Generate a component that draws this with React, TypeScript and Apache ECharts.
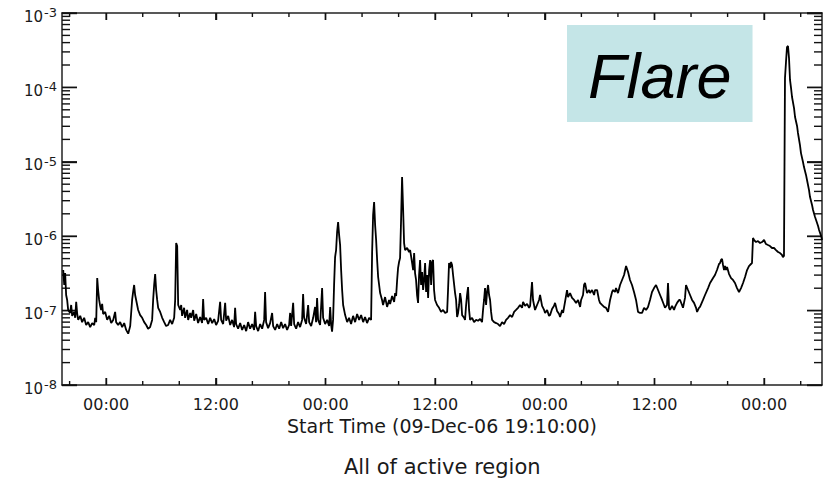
import React, { useEffect, useRef } from 'react';
import * as echarts from 'echarts';

type Pt = [number, number];

// time in hours relative to 10-Dec-06 00:00, flux in W m^-2
const dec09Evening: Pt[] = [
  [-4.70, 3.51e-7], [-4.59, 2.21e-7], [-4.49, 3.20e-7], [-4.38, 1.62e-7], [-4.27, 1.39e-7], [-4.16, 1.02e-7],
  [-3.94, 9.3e-8], [-3.83, 1.19e-7], [-3.72, 8.5e-8], [-3.50, 9.6e-8], [-3.39, 8.0e-8], [-3.28, 1.31e-7],
  [-3.17, 9.0e-8], [-3.06, 7.5e-8], [-2.84, 8.5e-8], [-2.63, 7.0e-8], [-2.41, 8.0e-8], [-2.19, 6.4e-8],
  [-1.97, 7.0e-8], [-1.75, 6.0e-8], [-1.53, 6.8e-8], [-1.31, 6.4e-8], [-1.20, 8.0e-8], [-1.09, 7.0e-8],
  [-0.98, 2.74e-7], [-0.88, 1.89e-7], [-0.77, 1.39e-7], [-0.66, 1.16e-7], [-0.55, 1.02e-7], [-0.44, 1.23e-7],
  [-0.33, 9.0e-8], [-0.11, 9.6e-8],
];

const dec10: Pt[] = [
  [0.11, 7.5e-8], [0.33, 8.5e-8], [0.55, 6.8e-8], [0.77, 7.5e-8], [0.98, 9.6e-8], [1.09, 7.0e-8], [1.31, 6.4e-8],
  [1.53, 7.0e-8], [1.75, 6.0e-8], [1.97, 6.8e-8], [2.19, 5.5e-8], [2.41, 4.9e-8], [2.63, 6.2e-8], [2.84, 1.39e-7],
  [2.95, 1.78e-7], [3.06, 2.21e-7], [3.17, 1.62e-7], [3.28, 1.39e-7], [3.39, 1.19e-7], [3.50, 1.02e-7], [3.72, 8.7e-8],
  [3.94, 8.0e-8], [4.16, 7.0e-8], [4.38, 6.4e-8], [4.59, 5.7e-8], [4.81, 6.0e-8], [5.03, 7.5e-8], [5.14, 1.39e-7],
  [5.25, 2.21e-7], [5.36, 3.10e-7], [5.47, 1.89e-7], [5.58, 1.39e-7], [5.69, 1.09e-7], [5.91, 9.6e-8], [6.13, 8.0e-8],
  [6.35, 7.0e-8], [6.56, 6.2e-8], [6.78, 6.4e-8], [7.00, 7.5e-8], [7.22, 6.6e-8], [7.44, 8.0e-8], [7.55, 1.39e-7],
  [7.66, 8.1e-7], [7.77, 7.4e-7], [7.88, 1.19e-7], [8.10, 1.02e-7], [8.21, 1.19e-7], [8.31, 8.5e-8], [8.53, 1.09e-7],
  [8.64, 8.0e-8], [8.86, 1.02e-7], [8.97, 7.5e-8], [9.19, 9.3e-8], [9.30, 8.0e-8], [9.52, 1.02e-7], [9.63, 7.3e-8],
  [9.85, 9.0e-8], [10.06, 6.8e-8], [10.28, 8.2e-8], [10.50, 6.8e-8], [10.61, 1.43e-7], [10.72, 7.5e-8], [10.94, 8.0e-8],
  [11.16, 6.6e-8], [11.38, 8.0e-8], [11.60, 6.8e-8], [11.82, 7.7e-8], [12.03, 6.4e-8], [12.25, 7.3e-8], [12.47, 1.31e-7],
  [12.58, 7.5e-8], [12.80, 6.6e-8], [13.02, 1.27e-7], [13.13, 7.3e-8], [13.35, 8.5e-8], [13.57, 6.4e-8], [13.78, 7.5e-8],
  [14.00, 6.0e-8], [14.11, 1.09e-7], [14.22, 6.6e-8], [14.44, 5.7e-8], [14.66, 6.8e-8], [14.88, 5.5e-8], [15.10, 6.4e-8],
  [15.32, 5.3e-8], [15.53, 7.0e-8], [15.75, 5.7e-8], [15.97, 6.6e-8], [16.19, 5.5e-8], [16.30, 9.6e-8], [16.41, 6.2e-8],
  [16.63, 5.3e-8], [16.85, 6.6e-8], [17.07, 5.7e-8], [17.29, 7.5e-8], [17.39, 1.78e-7], [17.50, 7.0e-8], [17.72, 5.8e-8],
  [17.94, 6.8e-8], [18.16, 9.3e-8], [18.27, 6.2e-8], [18.49, 5.5e-8], [18.71, 6.6e-8], [18.93, 5.7e-8], [19.15, 7.0e-8],
  [19.36, 5.8e-8], [19.58, 6.6e-8], [19.80, 5.5e-8], [20.02, 6.4e-8], [20.13, 9.3e-8], [20.24, 6.2e-8], [20.46, 1.27e-7],
  [20.57, 6.6e-8], [20.79, 5.7e-8], [21.00, 7.0e-8], [21.22, 6.0e-8], [21.44, 7.5e-8], [21.55, 1.67e-7], [21.66, 8.0e-8],
  [21.88, 6.6e-8], [22.10, 1.19e-7], [22.21, 7.0e-8], [22.43, 6.2e-8], [22.65, 8.0e-8], [22.86, 1.12e-7], [22.97, 7.0e-8],
  [23.08, 1.48e-7], [23.19, 7.5e-8], [23.41, 6.4e-8], [23.63, 2.01e-7], [23.74, 8.0e-8], [23.96, 6.6e-8],
];

const dec11: Pt[] = [
  [24.18, 7.5e-8], [24.40, 6.2e-8], [24.51, 1.12e-7], [24.62, 6.4e-8], [24.72, 5.2e-8], [24.83, 7.5e-8], [24.94, 2.21e-7],
  [25.05, 5.25e-7], [25.16, 6.52e-7], [25.27, 1.14e-6], [25.38, 1.55e-6], [25.49, 1.04e-6], [25.60, 7.61e-7], [25.71, 3.51e-7],
  [25.82, 1.89e-7], [25.93, 1.19e-7], [26.15, 8.7e-8], [26.37, 7.0e-8], [26.58, 8.0e-8], [26.80, 6.6e-8], [27.02, 8.5e-8],
  [27.24, 7.0e-8], [27.46, 9.0e-8], [27.68, 7.5e-8], [27.90, 8.7e-8], [28.12, 7.0e-8], [28.33, 8.2e-8], [28.55, 6.8e-8],
  [28.77, 8.0e-8], [28.99, 7.5e-8], [29.10, 5.94e-7], [29.21, 1.93e-6], [29.32, 2.88e-6], [29.43, 1.41e-6], [29.54, 8.89e-7],
  [29.65, 4.79e-7], [29.76, 2.83e-7], [29.98, 1.72e-7], [30.19, 1.39e-7], [30.30, 1.19e-7], [30.52, 1.52e-7], [30.74, 1.12e-7],
  [30.96, 1.39e-7], [31.07, 1.23e-7], [31.29, 1.57e-7], [31.51, 1.31e-7], [31.62, 1.72e-7], [31.73, 1.57e-7], [31.84, 2.58e-7],
  [31.94, 3.73e-7], [32.05, 4.50e-7], [32.16, 5.09e-7], [32.27, 1.65e-6], [32.38, 6.25e-6], [32.49, 2.39e-6], [32.60, 8.10e-7],
  [32.71, 6.52e-7], [32.93, 6.94e-7], [33.15, 6.13e-7], [33.26, 6.52e-7], [33.48, 4.36e-7], [33.59, 3.51e-7], [33.70, 5.94e-7],
  [33.80, 3.20e-7], [33.91, 2.58e-7], [34.02, 1.62e-7], [34.13, 1.27e-7], [34.24, 3.01e-7], [34.35, 4.79e-7], [34.46, 2.21e-7],
  [34.57, 3.30e-7], [34.68, 1.89e-7], [34.79, 2.58e-7], [34.90, 4.36e-7], [35.01, 1.78e-7], [35.12, 3.01e-7], [35.23, 1.48e-7],
  [35.34, 3.51e-7], [35.45, 4.79e-7], [35.56, 2.21e-7], [35.66, 4.50e-7], [35.77, 4.79e-7], [35.88, 1.89e-7], [35.99, 1.39e-7],
  [36.21, 1.19e-7], [36.43, 1.09e-7], [36.65, 9.6e-8], [36.87, 1.02e-7], [37.09, 9.3e-8], [37.31, 9.6e-8], [37.41, 1.89e-7],
  [37.52, 4.36e-7], [37.63, 3.73e-7], [37.74, 4.50e-7], [37.85, 4.10e-7], [37.96, 3.01e-7], [38.18, 1.72e-7], [38.29, 1.39e-7],
  [38.40, 8.2e-8], [38.51, 9.3e-8], [38.62, 1.19e-7], [38.73, 1.72e-7], [38.84, 1.39e-7], [38.95, 8.7e-8], [39.17, 8.0e-8],
  [39.27, 7.5e-8], [39.38, 1.16e-7], [39.49, 1.62e-7], [39.60, 2.07e-7], [39.71, 1.02e-7], [39.82, 7.5e-8], [40.04, 8.0e-8],
  [40.26, 7.0e-8], [40.48, 7.5e-8], [40.70, 7.3e-8], [40.92, 7.7e-8], [41.13, 7.0e-8], [41.24, 1.02e-7], [41.35, 1.39e-7],
  [41.46, 2.01e-7], [41.57, 1.19e-7], [41.68, 1.78e-7], [41.79, 2.21e-7], [41.90, 1.62e-7], [42.01, 1.39e-7], [42.12, 9.6e-8],
  [42.23, 7.5e-8], [42.45, 7.0e-8], [42.67, 6.8e-8], [42.88, 6.6e-8], [43.10, 6.2e-8], [43.32, 7.0e-8], [43.54, 6.6e-8],
  [43.76, 7.5e-8], [43.98, 8.0e-8], [44.20, 8.7e-8], [44.42, 8.2e-8], [44.64, 9.6e-8], [44.85, 1.02e-7], [45.07, 1.09e-7],
  [45.29, 1.19e-7], [45.51, 1.09e-7], [45.62, 1.31e-7], [45.84, 1.16e-7], [46.06, 1.23e-7], [46.28, 1.09e-7], [46.39, 1.16e-7],
  [46.60, 2.42e-7], [46.71, 1.39e-7], [46.93, 1.02e-7], [47.15, 1.19e-7], [47.37, 1.39e-7], [47.48, 1.62e-7], [47.70, 1.16e-7],
  [47.92, 1.02e-7],
];

const dec12: Pt[] = [
  [48.03, 9.3e-8], [48.25, 1.02e-7], [48.46, 8.5e-8], [48.57, 8.7e-8], [48.79, 1.05e-7], [49.01, 1.16e-7], [49.12, 1.27e-7],
  [49.34, 9.9e-8], [49.56, 9.0e-8], [49.67, 8.2e-8], [49.89, 1.02e-7], [50.00, 9.3e-8], [50.21, 1.31e-7], [50.43, 1.89e-7],
  [50.54, 1.52e-7], [50.76, 1.72e-7], [50.98, 1.48e-7], [51.20, 1.39e-7], [51.42, 1.27e-7], [51.64, 1.39e-7], [51.86, 1.12e-7],
  [51.97, 1.39e-7], [52.18, 1.62e-7], [52.29, 2.21e-7], [52.40, 2.35e-7], [52.62, 1.72e-7], [52.84, 1.89e-7], [52.95, 1.72e-7],
  [53.17, 1.89e-7], [53.39, 1.62e-7], [53.50, 1.89e-7], [53.72, 1.89e-7], [53.93, 1.39e-7], [54.04, 1.27e-7], [54.26, 1.19e-7],
  [54.48, 1.12e-7], [54.70, 1.09e-7], [54.92, 9.6e-8], [55.14, 1.39e-7], [55.36, 1.78e-7], [55.47, 1.89e-7], [55.68, 1.78e-7],
  [55.79, 2.01e-7], [56.01, 1.72e-7], [56.23, 2.21e-7], [56.45, 2.58e-7], [56.67, 3.01e-7], [56.89, 3.97e-7], [57.11, 3.30e-7],
  [57.32, 2.58e-7], [57.54, 2.21e-7], [57.76, 1.78e-7], [57.98, 1.39e-7], [58.20, 9.6e-8], [58.42, 9.3e-8], [58.64, 9.3e-8],
  [58.86, 1.09e-7], [59.08, 1.02e-7], [59.29, 1.12e-7], [59.51, 1.39e-7], [59.73, 1.78e-7], [59.95, 2.01e-7], [60.17, 2.21e-7],
  [60.39, 1.89e-7], [60.61, 1.62e-7], [60.83, 1.39e-7], [61.04, 1.19e-7], [61.15, 1.09e-7], [61.37, 1.19e-7], [61.48, 2.35e-7],
  [61.59, 1.09e-7], [61.70, 1.02e-7], [61.92, 1.16e-7], [62.14, 1.02e-7], [62.25, 1.12e-7], [62.47, 1.27e-7], [62.69, 1.39e-7],
  [62.80, 1.39e-7], [63.01, 1.19e-7], [63.12, 1.09e-7], [63.34, 1.48e-7], [63.45, 2.21e-7], [63.67, 1.89e-7], [63.89, 1.62e-7],
  [64.11, 1.39e-7], [64.33, 1.27e-7], [64.55, 1.09e-7], [64.66, 9.6e-8], [64.87, 1.09e-7], [64.98, 1.12e-7], [65.31, 1.39e-7],
  [65.53, 1.62e-7], [65.86, 2.01e-7], [66.08, 2.35e-7], [66.41, 2.74e-7], [66.62, 3.01e-7], [66.84, 3.51e-7], [67.06, 4.23e-7],
  [67.17, 4.36e-7], [67.28, 4.79e-7], [67.39, 4.94e-7], [67.50, 4.10e-7], [67.61, 3.51e-7], [67.72, 3.97e-7], [67.83, 3.51e-7],
  [67.94, 3.85e-7], [68.16, 3.10e-7], [68.38, 2.74e-7], [68.59, 2.58e-7], [68.81, 2.35e-7], [69.03, 2.01e-7], [69.25, 1.78e-7],
  [69.47, 2.01e-7], [69.69, 2.35e-7], [69.91, 2.83e-7], [70.13, 3.51e-7], [70.34, 3.97e-7], [70.56, 4.23e-7], [70.67, 4.36e-7],
  [70.78, 9.45e-7], [70.89, 8.89e-7], [71.11, 8.35e-7], [71.33, 8.61e-7], [71.55, 8.10e-7], [71.77, 8.35e-7], [71.99, 8.89e-7],
];

const dec13Flare: Pt[] = [
  [72.20, 7.85e-7], [72.42, 7.61e-7], [72.64, 7.38e-7], [72.86, 6.94e-7], [73.08, 6.94e-7], [73.30, 6.52e-7], [73.52, 6.13e-7],
  [73.74, 5.94e-7], [73.95, 5.59e-7], [74.06, 5.25e-7], [74.17, 5.42e-7], [74.28, 1.34e-4], [74.39, 2.19e-4], [74.50, 3.49e-4],
  [74.61, 3.60e-4], [74.72, 2.48e-4], [74.83, 1.26e-4], [74.94, 9.84e-5], [75.05, 7.43e-5], [75.27, 5.27e-5], [75.38, 4.0e-5],
  [75.60, 3.03e-5], [75.70, 2.44e-5], [75.92, 1.68e-5], [76.03, 1.31e-5], [76.25, 9.94e-6], [76.36, 8.5e-6], [76.58, 6.66e-6],
  [76.69, 5.69e-6], [76.91, 4.16e-6], [77.02, 3.36e-6], [77.24, 2.63e-6], [77.35, 2.25e-6], [77.57, 1.81e-6], [77.68, 1.65e-6],
  [77.90, 1.37e-6], [78.01, 1.21e-6], [78.23, 1.01e-6], [78.34, 8.89e-7],
];

const xStart = -4.8333; // 09-Dec-06 19:10
const xEnd = 78.33;
const majorHours = [0, 12, 24, 36, 48, 60, 72];
const majorLabels = ['00:00', '12:00', '00:00', '12:00', '00:00', '12:00', '00:00'];
const minorHours = [-4, 4, 8, 16, 20, 28, 32, 40, 44, 52, 56, 64, 68, 76];
const decadeExps = [-8, -7, -6, -5, -4, -3];
const minorMantissas = [2, 3, 4, 5, 6, 7, 8, 9];

const xTitle = 'Start Time (09-Dec-06 19:10:00)';
const footTitle = 'All of active region';
const boxLabel = 'Flare';

const FONT = 'DejaVu Sans';
const INK = '#1a1a1a';

export default function App() {
  const ref = useRef<HTMLDivElement>(null);

  useEffect(() => {
    document.body.style.margin = '0';
    if (!ref.current) return;
    const chart = echarts.init(ref.current, null, { renderer: 'svg' });

    const yMin = Math.pow(10, decadeExps[0]);
    const yMax = Math.pow(10, decadeExps[decadeExps.length - 1]);
    const majorFlux = decadeExps.map((e) => Math.pow(10, e));
    const minorFlux: number[] = [];
    decadeExps.slice(0, -1).forEach((e) => {
      minorMantissas.forEach((m) => minorFlux.push(m * Math.pow(10, e)));
    });

    const xTickData = [...majorHours.map((h) => [h, yMin, 7]), ...minorHours.map((h) => [h, yMin, 4])];
    const yTickData = [...majorFlux.map((v) => [xStart, v, 15]), ...minorFlux.map((v) => [xStart, v, 8])];

    const data = [...dec09Evening, ...dec10, ...dec11, ...dec12, ...dec13Flare];

    const option: any = {
      animation: false,
      title: [
        {
          text: boxLabel,
          left: 567,
          top: 25,
          padding: [19, 21, 15, 21],
          backgroundColor: '#c4e5e7',
          textStyle: {
            fontSize: 63,
            lineHeight: 63,
            fontStyle: 'italic',
            fontWeight: 'normal',
            fontFamily: 'Liberation Sans',
            color: '#000',
          },
        },
        {
          text: footTitle,
          left: 344,
          top: 456,
          padding: 0,
          textStyle: { fontSize: 21, fontWeight: 'normal', fontFamily: FONT, color: INK },
        },
      ],
      grid: { left: 62, top: 13, width: 760, height: 372 },
      xAxis: [
        {
          type: 'value',
          min: xStart,
          max: xEnd,
          position: 'bottom',
          axisLine: { show: true, onZero: false, lineStyle: { color: '#222', width: 1.5 } },
          axisTick: { show: true, inside: true, length: 7, customValues: majorHours, lineStyle: { color: '#111', width: 1.4 } },
          splitLine: { show: false },
          axisLabel: {
            show: true,
            customValues: majorHours,
            margin: 11,
            fontSize: 16,
            fontFamily: FONT,
            color: INK,
            formatter: (v: number) => {
              const i = majorHours.indexOf(Math.round(v));
              return i >= 0 ? majorLabels[i] : '';
            },
          },
          name: xTitle,
          nameLocation: 'middle',
          nameGap: 29,
          nameTextStyle: { fontSize: 19, fontFamily: FONT, color: INK },
        },
        {
          type: 'value',
          min: xStart,
          max: xEnd,
          position: 'top',
          axisLine: { show: true, onZero: false, lineStyle: { color: '#222', width: 1.5 } },
          axisTick: { show: true, inside: true, length: 7, customValues: majorHours, lineStyle: { color: '#111', width: 1.4 } },
          splitLine: { show: false },
          axisLabel: { show: false },
        },
      ],
      yAxis: [
        {
          type: 'log',
          logBase: 10,
          min: yMin,
          max: yMax,
          position: 'left',
          axisLine: { show: true, onZero: false, lineStyle: { color: '#222', width: 1.5 } },
          axisTick: { show: true, inside: true, length: 15, lineStyle: { color: '#111', width: 1.4 } },
          splitLine: { show: false },
          axisLabel: {
            show: true,
            margin: 5,
            padding: [4, 0, 0, 0],
            formatter: (v: number) => {
              const e = Math.round(Math.log10(v));
              return `{b|10}{s|${e}}`;
            },
            rich: {
              b: { fontSize: 15, fontFamily: FONT, color: INK, padding: [3, 0, 0, 0] },
              s: { fontSize: 13, fontFamily: FONT, color: INK, verticalAlign: 'top', padding: [0, 0, 0, 1] },
            },
          },
        },
        {
          type: 'log',
          logBase: 10,
          min: yMin,
          max: yMax,
          position: 'right',
          axisLine: { show: true, onZero: false, lineStyle: { color: '#222', width: 1.5 } },
          axisTick: { show: true, inside: true, length: 15, lineStyle: { color: '#111', width: 1.4 } },
          splitLine: { show: false },
          axisLabel: { show: false },
        },
      ],
      series: [
        {
          type: 'custom',
          name: 'time ticks',
          xAxisIndex: 0,
          yAxisIndex: 0,
          silent: true,
          clip: false,
          data: xTickData,
          encode: { x: 0, y: 1 },
          renderItem: (_p: any, api: any) => {
            const h = api.value(0);
            const len = api.value(2);
            const b = api.coord([h, yMin]);
            const t = api.coord([h, yMax]);
            return {
              type: 'group',
              children: [
                { type: 'line', shape: { x1: b[0], y1: b[1], x2: b[0], y2: b[1] - len }, style: { stroke: '#111', lineWidth: 1.4 } },
                { type: 'line', shape: { x1: t[0], y1: t[1], x2: t[0], y2: t[1] + len }, style: { stroke: '#111', lineWidth: 1.4 } },
              ],
            };
          },
        },
        {
          type: 'custom',
          name: 'flux ticks',
          xAxisIndex: 0,
          yAxisIndex: 0,
          silent: true,
          clip: false,
          data: yTickData,
          encode: { x: 0, y: 1 },
          renderItem: (_p: any, api: any) => {
            const v = api.value(1);
            const len = api.value(2);
            const l = api.coord([xStart, v]);
            const r = api.coord([xEnd, v]);
            return {
              type: 'group',
              children: [
                { type: 'line', shape: { x1: l[0], y1: l[1], x2: l[0] + len, y2: l[1] }, style: { stroke: '#111', lineWidth: 1.4 } },
                { type: 'line', shape: { x1: r[0], y1: r[1], x2: r[0] - len, y2: r[1] }, style: { stroke: '#111', lineWidth: 1.4 } },
              ],
            };
          },
        },
        {
          type: 'line',
          name: 'GOES flux',
          xAxisIndex: 0,
          yAxisIndex: 0,
          data,
          showSymbol: false,
          symbol: 'none',
          lineStyle: { color: '#000', width: 1.8 },
        },
      ],
    };

    chart.setOption(option);
    return () => chart.dispose();
  }, []);

  return <div ref={ref} style={{ width: 823, height: 488 }} />;
}
